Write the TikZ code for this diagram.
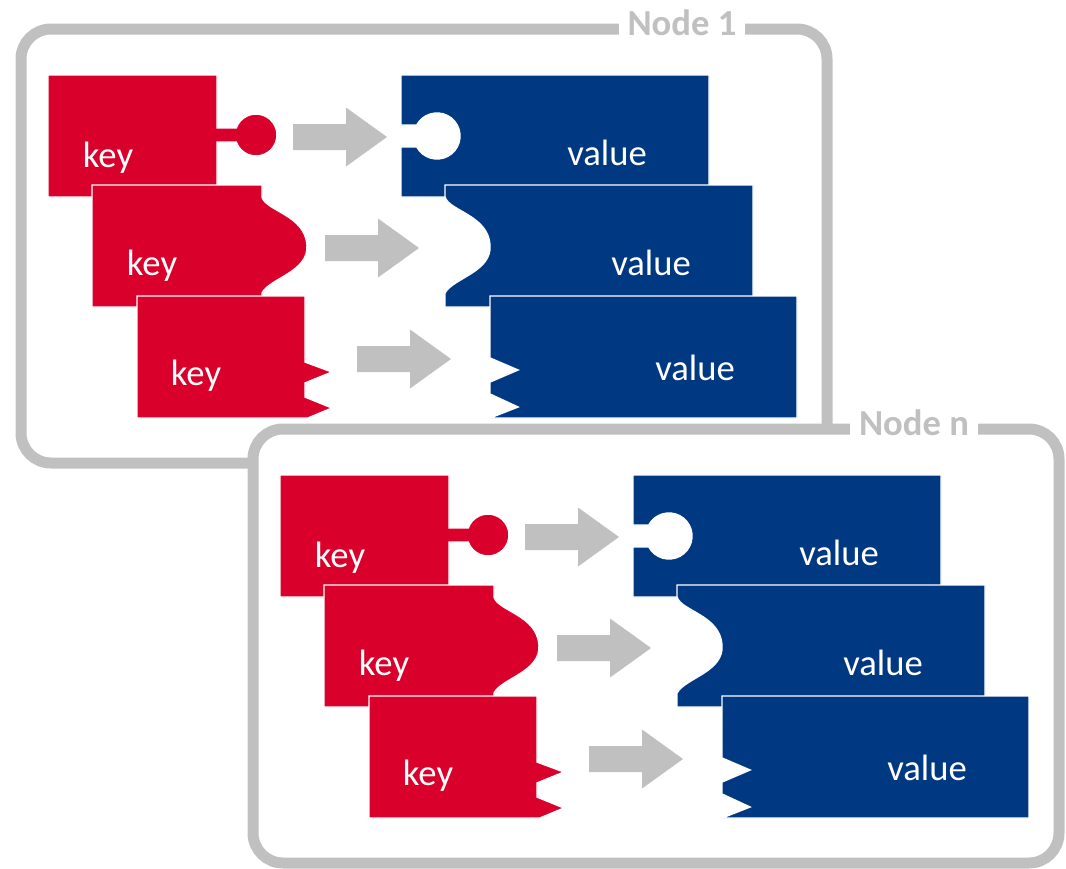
\documentclass[tikz,border=0pt]{standalone}
\usepackage{fontspec}
\setmainfont{Carlito}
\definecolor{keyred}{RGB}{218,0,44}
\definecolor{valblue}{RGB}{0,56,130}
\definecolor{framegray}{RGB}{192,192,192}
\tikzset{
  frame/.style={draw=framegray, line width=8.25pt, rounded corners=22.5pt, fill=white},
  paneltitle/.style={fill=white, text=framegray, font=\fontsize{27.5}{33}\selectfont\bfseries,
    inner xsep=6.75pt, inner ysep=2pt, anchor=base},
  keypiece/.style={fill=keyred, draw=white, line width=1.1pt},
  valuepiece/.style={fill=valblue, draw=white, line width=1.1pt},
  piecetext/.style={text=white, font=\fontsize{27.5}{33}\selectfont, anchor=base, inner sep=0pt},
  pics/blockarrow/.style={code={
    \fill[framegray] (0,-13) -- (53,-13) -- (53,-29.5) -- (94,0) -- (53,29.5) -- (53,13) -- (0,13) -- cycle;
  }},
  pics/panel/.style={code={
    % frame with its title
    \draw[frame] (21,29) rectangle (827,463);
    \node[paneltitle] (-title) at (682,35) {#1};
    % row 1: round knob and socket
    \path[keypiece] (48,75) -- (217,75) -- (217,128) -- (236.2,128)
      arc[start angle=199.5, end angle=520.5, radius=21] -- (217,142) -- (217,197) -- (48,197) -- cycle;
    \path[valuepiece] (401,75) -- (709,75) -- (709,197) -- (401,197) -- (401,147) -- (416.8,147)
      arc[start angle=151.4, end angle=-151.4, radius=23] -- (401,125) -- cycle;
    \node[piecetext] (-key1) at (108,167) {key};
    \node[piecetext] (-val1) at (607,165) {value};
    \pic at (293,137) {blockarrow};
    % row 2: wave
    \path[keypiece] (92,185) -- (262,185) -- (262,197)
      .. controls (266,211) and (305,215) .. (307,245)
      .. controls (309,272) and (270,278) .. (262,293) -- (262,307) -- (92,307) -- cycle;
    \path[valuepiece] (445,185) -- (753,185) -- (753,307) -- (445,307) -- (445,293)
      .. controls (453,278) and (492,272) .. (490,245)
      .. controls (488,215) and (449,211) .. (445,197) -- cycle;
    \node[piecetext] (-key2) at (152,275) {key};
    \node[piecetext] (-val2) at (651,275) {value};
    \pic at (325,248) {blockarrow};
    % row 3: teeth
    \path[keypiece] (137,296) -- (305,296) -- (305,362) -- (332,372) -- (305,383) -- (305,397)
      -- (332,408) -- (308,418) -- (137,418) -- cycle;
    \path[valuepiece] (490,296) -- (797,296) -- (797,418) -- (490,418) -- (518,407) -- (490,394)
      -- (490,382) -- (518,370) -- (490,358) -- cycle;
    \node[piecetext] (-key3) at (196,385) {key};
    \node[piecetext] (-val3) at (695,380) {value};
    \pic at (357,359) {blockarrow};
  }}
}
\begin{document}
\begin{tikzpicture}[x=0.75pt, y=-0.75pt]
  \useasboundingbox (0,0) rectangle (1066,868);
  \pic (n1) at (0,0) {panel=Node 1};
  \pic (nn) at (232,400) {panel=Node n};
\end{tikzpicture}
\end{document}
